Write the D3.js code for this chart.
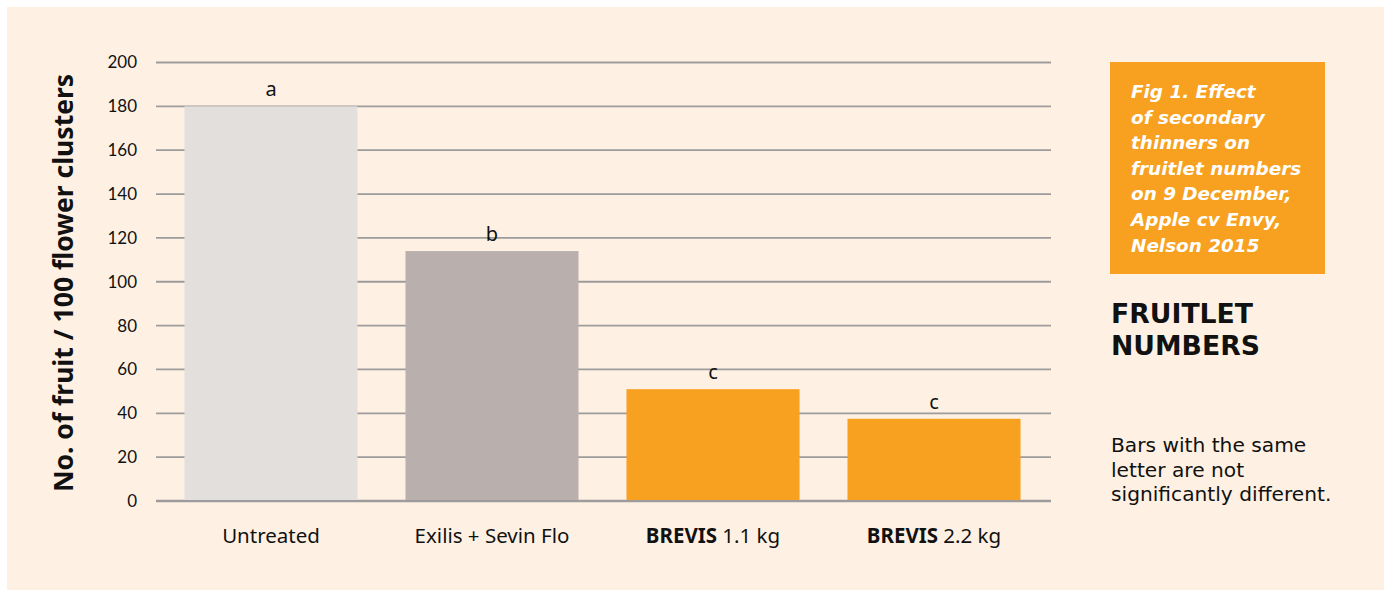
<!DOCTYPE html>
<html>
<head>
<meta charset="utf-8">
<script src="https://cdn.jsdelivr.net/npm/d3@7"></script>
<style>
  html, body { margin: 0; padding: 0; background: #ffffff; }
  svg { display: block; font-family: "Noto Sans", "Open Sans", sans-serif; }
</style>
</head>
<body>
<svg id="chart" width="1389" height="590"></svg>
<script>
// chart data
let categories = ["Untreated", "Exilis + Sevin Flo", "BREVIS 1.1 kg", "BREVIS 2.2 kg"];
let boldParts = ["", "", "BREVIS", "BREVIS"];
let restParts = ["Untreated", "Exilis + Sevin Flo", "1.1 kg", "2.2 kg"];
let values = [180, 114, 51, 37.5];
let letters = ["a", "b", "c", "c"];
let yTicks = [0, 20, 40, 60, 80, 100, 120, 140, 160, 180, 200];
let captionLines = ["Fig 1. Effect", "of secondary", "thinners on", "fruitlet numbers", "on 9 December,", "Apple cv Envy,", "Nelson 2015"];
let titleLines = ["FRUITLET", "NUMBERS"];
let noteLines = ["Bars with the same", "letter are not", "significantly different."];

let barColors = ["#e3dfdc", "#b9b0ad", "#f8a01f", "#f8a01f"];
let orange = "#f8a01f";
let sideFont = "'DejaVu Sans', 'Noto Sans', sans-serif";

let svg = d3.select("#chart");

// cream panel
svg.append("rect")
    .attr("x", 7).attr("y", 7)
    .attr("width", 1377).attr("height", 583)
    .attr("fill", "#fef1e3");

let gridLeft = 156, gridRight = 1051;

let y = d3.scaleLinear().domain([0, 200]).range([501, 62.5]);
let x = d3.scaleBand()
    .domain(categories)
    .range([160.5, 1044.5])
    .paddingInner(0.217)
    .paddingOuter(0.1085);

// gridlines
svg.append("g")
    .selectAll("line")
    .data(yTicks)
    .join("line")
    .attr("x1", gridLeft)
    .attr("x2", gridRight)
    .attr("y1", d => y(d))
    .attr("y2", d => y(d))
    .attr("stroke", "#9d9b9b")
    .attr("stroke-width", d => d === 0 ? 2.5 : 1.8);

// y axis labels
let yAxis = d3.axisLeft(y).tickValues(yTicks).tickSize(0).tickPadding(0);
let yg = svg.append("g")
    .attr("transform", "translate(137,0)")
    .call(yAxis);
yg.select(".domain").remove();
yg.selectAll("text")
    .attr("font-size", 17)
    .attr("fill", "#111")
    .attr("font-family", "Lato, 'Noto Sans', sans-serif");

// bars
svg.append("g")
    .selectAll("rect")
    .data(values)
    .join("rect")
    .attr("x", (d, i) => x(categories[i]))
    .attr("width", x.bandwidth())
    .attr("y", d => y(d))
    .attr("height", d => y(0) - y(d) - 1)
    .attr("fill", (d, i) => barColors[i]);

// significance letters
svg.append("g")
    .selectAll("text")
    .data(values)
    .join("text")
    .attr("x", (d, i) => x(categories[i]) + x.bandwidth() / 2)
    .attr("y", d => y(d) - 10)
    .attr("text-anchor", "middle")
    .attr("font-size", 20)
    .attr("fill", "#111")
    .text((d, i) => letters[i]);

// category labels
let xl = svg.append("g")
    .selectAll("text")
    .data(categories)
    .join("text")
    .attr("x", d => x(d) + x.bandwidth() / 2)
    .attr("y", 543)
    .attr("text-anchor", "middle")
    .attr("font-size", 20.5)
    .attr("fill", "#111");
xl.append("tspan")
    .attr("font-weight", "bold")
    .text((d, i) => boldParts[i] ? boldParts[i] + "\u00a0" : "");
xl.append("tspan")
    .text((d, i) => restParts[i]);

// y axis title
svg.append("text")
    .attr("transform", "translate(73,283) rotate(-90)")
    .attr("text-anchor", "middle")
    .attr("font-size", 26.5)
    .attr("font-weight", "bold")
    .attr("fill", "#111")
    .text("No. of fruit / 100 flower clusters");

// caption box
svg.append("rect")
    .attr("x", 1110).attr("y", 62)
    .attr("width", 215).attr("height", 212)
    .attr("fill", orange);

svg.append("g")
    .selectAll("text")
    .data(captionLines)
    .join("text")
    .attr("x", 1131)
    .attr("y", (d, i) => 98 + i * 25.6)
    .attr("font-family", sideFont)
    .attr("font-size", 18.4)
    .attr("font-weight", "bold")
    .attr("font-style", "italic")
    .attr("fill", "#fff")
    .text(d => d);

// title
svg.append("g")
    .selectAll("text")
    .data(titleLines)
    .join("text")
    .attr("x", 1111)
    .attr("y", (d, i) => 323 + i * 31.5)
    .attr("font-family", sideFont)
    .attr("font-size", 26.7)
    .attr("font-weight", "bold")
    .attr("fill", "#111")
    .text(d => d);

// note
svg.append("g")
    .selectAll("text")
    .data(noteLines)
    .join("text")
    .attr("x", 1111)
    .attr("y", (d, i) => 452 + i * 24.5)
    .attr("font-family", sideFont)
    .attr("font-size", 20.2)
    .attr("fill", "#111")
    .text(d => d);
</script>
</body>
</html>
